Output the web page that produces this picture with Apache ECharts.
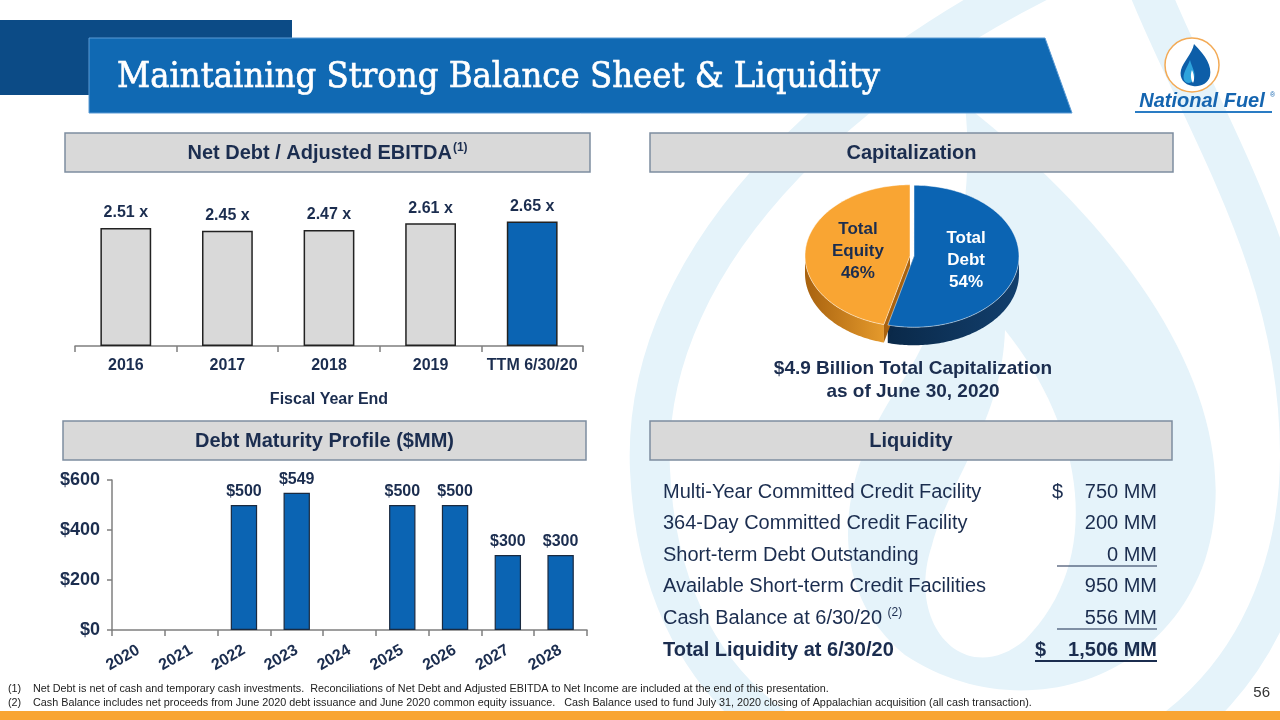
<!DOCTYPE html>
<html><head><meta charset="utf-8">
<script src="https://cdn.jsdelivr.net/npm/echarts@6/dist/echarts.min.js"></script>
<style>html,body{margin:0;padding:0;background:#fff}#c{width:1280px;height:720px}</style>
</head><body><div id="c"></div>
<script>
// ---------- data ----------
const ratioYears = ['2016', '2017', '2018', '2019', 'TTM 6/30/20'];
const ratioValues = [2.51, 2.45, 2.47, 2.61, 2.65];
const maturityYears = ['2020', '2021', '2022', '2023', '2024', '2025', '2026', '2027', '2028'];
const maturityValues = [0, 0, 500, 549, 0, 500, 500, 300, 300];
const maturityTicks = [0, 200, 400, 600];
const capNames = ['Total Debt', 'Total Equity'];
const capValues = [54, 46];
const liquidityLabels = ['Multi-Year Committed Credit Facility', '364-Day Committed Credit Facility',
  'Short-term Debt Outstanding', 'Available Short-term Credit Facilities', 'Cash Balance at 6/30/20', 'Total Liquidity at 6/30/20'];
const liquidityAmounts = ['750 MM', '200 MM', '0 MM', '950 MM', '556 MM', '1,506 MM'];

// ---------- styles ----------
const NAVY = '#1b2d4f';
const BLUE = '#0b64b3';
const LIGHT = '#e5f3fa';
const FONT = "'Liberation Sans', Arial, sans-serif";
const capTop = ['#0b64b3', '#f9a533'];
const capWallA = ['#0a2949', '#a8620f'];
const capWallB = ['#123f6d', '#e59a2c'];
const capLabel = ['#ffffff', NAVY];

const chart = echarts.init(document.getElementById('c'), null, {renderer: 'canvas'});

function box(x, y, w, h, textRich) {
  return [
    {type: 'rect', shape: {x, y, width: w, height: h}, style: {fill: '#d9d9d9', stroke: '#7d8da0', lineWidth: 1.5}},
    {type: 'text', x: x + w / 2, y: y + h / 2 + 1, style: Object.assign({align: 'center', verticalAlign: 'middle',
      fontFamily: FONT, fontWeight: 'bold', fontSize: 20, fill: NAVY}, textRich)}
  ];
}

const graphics = [];
// header
graphics.push({type: 'rect', shape: {x: 0, y: 20, width: 292, height: 75}, style: {fill: '#0c4b86'}});
graphics.push({type: 'polygon', shape: {points: [[89, 38], [1045, 38], [1072, 113], [89, 113]]}, style: {fill: '#1069b3', stroke: '#5b9bd5', lineWidth: 1}});
graphics.push({type: 'text', x: 117, y: 78, scaleX: 0.9, style: {text: 'Maintaining Strong Balance Sheet & Liquidity',
  fontFamily: "'DejaVu Serif', serif", fontSize: 36, fill: '#ffffff', stroke: '#ffffff', lineWidth: 0.7, verticalAlign: 'middle'}});
// logo
graphics.push({type: 'circle', shape: {cx: 1192, cy: 65, r: 27}, style: {fill: '#ffffff', stroke: '#f3aa55', lineWidth: 1.5}});
graphics.push({type: 'text', x: 1202, y: 101, style: {text: 'National Fuel', align: 'center', verticalAlign: 'middle',
  fontFamily: FONT, fontWeight: 'bold', fontStyle: 'italic', fontSize: 20, fill: '#1565b0'}});
graphics.push({type: 'text', x: 1270, y: 92, style: {text: '®', fontFamily: FONT, fontSize: 7, fill: '#1565b0'}});
graphics.push({type: 'line', shape: {x1: 1135, y1: 112, x2: 1272, y2: 112}, style: {stroke: '#2a7cc4', lineWidth: 2}});
// section boxes
graphics.push(...box(65, 133, 525, 39, {text: '{a|Net Debt / Adjusted EBITDA}{s|(1)}', rich: {
  a: {fontFamily: FONT, fontWeight: 'bold', fontSize: 20, fill: NAVY},
  s: {fontFamily: FONT, fontWeight: 'bold', fontSize: 12, fill: NAVY, padding: [0, 0, 11, 1]}}}));
graphics.push(...box(650, 133, 523, 39, {text: 'Capitalization'}));
graphics.push(...box(63, 421, 523, 39, {text: 'Debt Maturity Profile ($MM)'}));
graphics.push(...box(650, 421, 522, 39, {text: 'Liquidity'}));
// capitalization caption
graphics.push({type: 'text', x: 913, y: 380, style: {text: '$4.9 Billion Total Capitalization\nas of June 30, 2020', align: 'center', verticalAlign: 'middle',
  lineHeight: 23, fontFamily: FONT, fontWeight: 'bold', fontSize: 19, fill: NAVY}});
// liquidity table
const rowY = [492, 523, 555, 586, 618, 650];
liquidityLabels.forEach((t, i) => {
  const bold = i === liquidityLabels.length - 1;
  const txt = i === 4 ? '{a|' + t + ' }{s|(2)}' : t;
  graphics.push({type: 'text', x: 663, y: rowY[i], style: {text: txt, verticalAlign: 'middle', fontFamily: FONT, fontSize: 20,
    fontWeight: bold ? 'bold' : 'normal', fill: NAVY,
    rich: {a: {fontFamily: FONT, fontSize: 20, fill: NAVY}, s: {fontFamily: FONT, fontSize: 12, fill: NAVY, padding: [0, 0, 10, 0]}}}});
  graphics.push({type: 'text', x: 1157, y: rowY[i], style: {text: liquidityAmounts[i], align: 'right', verticalAlign: 'middle',
    fontFamily: FONT, fontSize: 20, fontWeight: bold ? 'bold' : 'normal', fill: NAVY}});
});
graphics.push({type: 'text', x: 1052, y: rowY[0], style: {text: '$', verticalAlign: 'middle', fontFamily: FONT, fontSize: 20, fill: NAVY}});
graphics.push({type: 'text', x: 1035, y: rowY[5], style: {text: '$', verticalAlign: 'middle', fontFamily: FONT, fontSize: 20, fontWeight: 'bold', fill: NAVY}});
graphics.push({type: 'line', shape: {x1: 1057, y1: 566, x2: 1157, y2: 566}, style: {stroke: NAVY, lineWidth: 1.2}});
graphics.push({type: 'line', shape: {x1: 1057, y1: 629, x2: 1157, y2: 629}, style: {stroke: NAVY, lineWidth: 1.2}});
graphics.push({type: 'line', shape: {x1: 1035, y1: 661, x2: 1157, y2: 661}, style: {stroke: NAVY, lineWidth: 2}});
// footnotes
const fnStyle = {verticalAlign: 'middle', fontFamily: FONT, fontSize: 10.8, fill: '#222'};
graphics.push({type: 'text', x: 8, y: 689, style: Object.assign({text: '(1)'}, fnStyle)});
graphics.push({type: 'text', x: 33, y: 689, style: Object.assign({text: 'Net Debt is net of cash and temporary cash investments.  Reconciliations of Net Debt and Adjusted EBITDA to Net Income are included at the end of this presentation.'}, fnStyle)});
graphics.push({type: 'text', x: 8, y: 703, style: Object.assign({text: '(2)'}, fnStyle)});
graphics.push({type: 'text', x: 33, y: 703, style: Object.assign({text: 'Cash Balance includes net proceeds from June 2020 debt issuance and June 2020 common equity issuance.   Cash Balance used to fund July 31, 2020 closing of Appalachian acquisition (all cash transaction).'}, fnStyle)});
graphics.push({type: 'text', x: 1270, y: 693, style: {text: '56', align: 'right', verticalAlign: 'middle', fontFamily: FONT, fontSize: 15, fill: '#333'}});
graphics.push({type: 'rect', shape: {x: 0, y: 711, width: 1280, height: 9}, style: {fill: '#f9a533'}});

// ---------- decorative paths (watermark + logo drop) ----------
function renderDecor() {
  return {type: 'group', children: [
    {type: 'path', z2: 0, shape: {pathData: 'M1130 -60 C860 50 640 250 650 470 C660 700 820 790 985 790 C1180 790 1300 640 1300 455 C1300 250 1190 110 1130 -60 Z'},
      style: {fill: 'none', stroke: LIGHT, lineWidth: 40}},
    {type: 'path', z2: 1, shape: {pathData: 'M965 105 C1150 250 1250 420 1205 560 C1160 690 1010 725 905 655 C820 585 840 470 900 385 C955 300 975 200 965 105 Z'},
      style: {fill: LIGHT}},
    {type: 'path', z2: 2, shape: {pathData: 'M1005 330 C1085 430 1105 560 1025 640 C965 690 905 625 932 545 C952 475 1002 420 1005 330 Z'},
      style: {fill: '#ffffff'}}
  ]};
}
function renderLogo() {
  return {type: 'group', children: [
    {type: 'path', shape: {pathData: 'M1194 44 C1206 56 1212 66 1210 76 C1208 84 1200 87 1193 86 C1184 85 1179 78 1181 70 C1183 62 1192 54 1194 44 Z'}, style: {fill: '#0d5ea8'}},
    {type: 'path', shape: {pathData: 'M1190 60 C1192 68 1196 72 1194 79 C1192 84 1186 84 1184 80 C1182 74 1187 68 1190 60 Z'}, style: {fill: '#2ea3dc'}},
    {type: 'path', shape: {pathData: 'M1192 70 C1194 75 1195 79 1193 83 C1191 80 1190 75 1192 70 Z'}, style: {fill: '#ffffff'}}
  ]};
}

// ---------- 3D pie (custom series) ----------
const capTotal = capValues.reduce((a, b) => a + b, 0);
const PIE = {cx: 912, cy: 256, rx: 105, ry: 71, depth: 18, explode: 2};
function renderPie(params, api) {
  const i = params.dataIndex;
  let before = 0;
  for (let k = 0; k < i; k++) before += capValues[k];
  const a0 = before / capTotal * Math.PI * 2;
  const a1 = (before + api.value(0)) / capTotal * Math.PI * 2;
  const mid = (a0 + a1) / 2;
  const dx = PIE.explode * Math.sin(mid), dy = -PIE.explode * Math.cos(mid);
  const P = (t, r, d) => [PIE.cx + dx + PIE.rx * r * Math.sin(t), PIE.cy + dy - PIE.ry * r * Math.cos(t) + (d || 0)];
  const arc = (s, e, d) => { const pts = []; const n = Math.max(2, Math.ceil((e - s) / 0.02)); for (let k = 0; k <= n; k++) pts.push(P(s + (e - s) * k / n, 1, d)); return pts; };
  const children = [];
  const grad = {type: 'linear', x: 0, y: 0, x2: 1, y2: 0, colorStops: [{offset: 0, color: capWallA[i]}, {offset: 1, color: capWallB[i]}]};
  const s = Math.max(a0, Math.PI / 2), e = Math.min(a1, Math.PI * 1.5);
  if (s < e) {
    const top = arc(s, e, 0), bot = arc(s, e, PIE.depth).reverse();
    children.push({type: 'polygon', z2: 1, shape: {points: top.concat(bot)}, style: {fill: grad}});
  }
  [a0, a1].forEach(t => {
    const c = P(0, 0, 0), p = P(t, 1, 0);
    children.push({type: 'polygon', z2: 2, shape: {points: [c, p, [p[0], p[1] + PIE.depth], [c[0], c[1] + PIE.depth]]}, style: {fill: capWallA[i]}});
  });
  children.push({type: 'polygon', z2: 10, shape: {points: [P(0, 0, 0)].concat(arc(a0, a1, 0))}, style: {fill: capTop[i], stroke: 'rgba(255,255,255,0.6)', lineWidth: 0.8}});
  const lp = P(mid, 0.5, 0);
  const name = capNames[i].replace(' ', '\n');
  children.push({type: 'text', z2: 20, x: lp[0], y: lp[1], style: {text: name + '\n' + api.value(0) + '%', align: 'center', verticalAlign: 'middle',
    lineHeight: 22, fontFamily: FONT, fontWeight: 'bold', fontSize: 17, fill: capLabel[i]}});
  return {type: 'group', children};
}

const axisGray = '#7f7f7f';
const option = {
  animation: false,
  backgroundColor: '#ffffff',
  graphic: {elements: graphics},
  grid: [
    {left: 75, width: 508, top: 205, height: 141},
    {left: 112, width: 475, top: 480, height: 150}
  ],
  xAxis: [
    {gridIndex: 0, type: 'category', data: ratioYears,
      axisLine: {lineStyle: {color: axisGray, width: 1.5}},
      axisTick: {show: true, length: 6, lineStyle: {color: axisGray, width: 1.5}},
      axisLabel: {interval: 0, fontFamily: FONT, fontWeight: 'bold', fontSize: 16, color: NAVY, margin: 12},
      name: 'Fiscal Year End', nameLocation: 'middle', nameGap: 46,
      nameTextStyle: {fontFamily: FONT, fontWeight: 'bold', fontSize: 16, color: NAVY}},
    {gridIndex: 1, type: 'category', data: maturityYears,
      axisLine: {lineStyle: {color: axisGray, width: 1.5}},
      axisTick: {show: true, length: 6, lineStyle: {color: axisGray, width: 1.5}},
      axisLabel: {interval: 0, fontFamily: FONT, fontWeight: 'bold', fontSize: 16, color: NAVY, rotate: 30, margin: 19}}
  ],
  yAxis: [
    {gridIndex: 0, type: 'value', min: 0, max: 3, show: false},
    {gridIndex: 1, type: 'value', min: 0, max: 600, interval: 200,
      axisLine: {show: true, lineStyle: {color: axisGray, width: 1.5}},
      axisTick: {show: true, length: 5, lineStyle: {color: axisGray, width: 1.5}},
      splitLine: {show: false},
      axisLabel: {fontFamily: FONT, fontWeight: 'bold', fontSize: 18, color: NAVY, margin: 12, formatter: v => '$' + v}}
  ],
  series: [
    {type: 'custom', coordinateSystem: 'none', z: -5, silent: true, renderItem: renderDecor, data: [0]},
    {type: 'custom', coordinateSystem: 'none', z: 10, silent: true, renderItem: renderLogo, data: [0]},
    {type: 'bar', xAxisIndex: 0, yAxisIndex: 0, barWidth: '50%',
      data: ratioValues.map((v, i) => ({value: v, itemStyle: {color: i === ratioValues.length - 1 ? BLUE : '#d9d9d9'}})),
      itemStyle: {borderColor: '#222', borderWidth: 1.5},
      label: {show: true, position: 'top', distance: 7, fontFamily: FONT, fontWeight: 'bold', fontSize: 16, color: NAVY,
        formatter: p => p.value.toFixed(2) + ' x'}},
    {type: 'bar', xAxisIndex: 1, yAxisIndex: 1, barWidth: '50%',
      data: maturityValues.map(v => v ? v : {value: v, itemStyle: {borderWidth: 0}}),
      itemStyle: {color: BLUE, borderColor: '#1a2a40', borderWidth: 1.2},
      label: {show: true, position: 'top', distance: 5, fontFamily: FONT, fontWeight: 'bold', fontSize: 16, color: NAVY,
        formatter: p => p.value ? '$' + p.value : ''}},
    {type: 'custom', coordinateSystem: 'none', renderItem: renderPie,
      data: capValues.map((v, i) => ({value: v, name: capNames[i]}))}
  ]
};
chart.setOption(option);
</script></body></html>
